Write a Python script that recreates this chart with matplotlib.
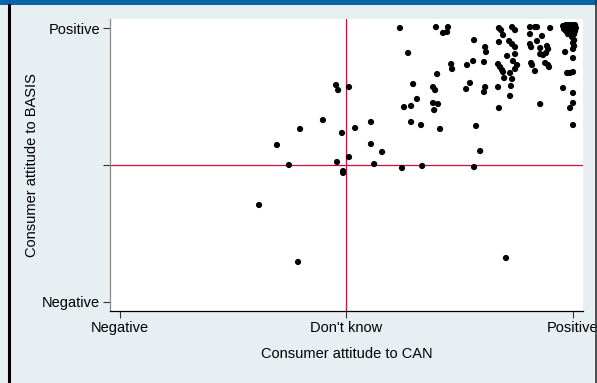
import matplotlib
matplotlib.use("Agg")
import matplotlib.pyplot as plt
from matplotlib.patches import Rectangle
from matplotlib.lines import Line2D

plt.rcParams['font.family'] = ['Liberation Sans', 'DejaVu Sans']

# Jittered attitude scores (-1 = Negative, 0 = Don't know, 1 = Positive)
can = [0.238, 0.397, 0.450, 0.428, 0.446, 0.675, 0.684, 0.733, 0.746, 0.812,
       0.834, 0.843, 0.901, 0.693, 0.812, 0.865, 0.565, 0.675, 0.720, 0.733,
       0.746, 0.812, 0.817, 0.843, 0.857, 0.887, 0.892, 0.883, 0.614, 0.618,
       0.274, 0.746, 0.711, 0.857, 0.870, 0.967, 1.002, 0.464, 0.468, 0.534,
       0.561, 0.609, 0.671, 0.680, 0.689, 0.693, 0.737, 0.755, 0.746, 0.817,
       0.821, 0.834, 0.879, 0.892, 0.896, 0.724, 0.976, 0.989, 1.002, 0.402,
       0.698, 0.733, 0.296, 0.547, 0.530, 0.614, 0.609, 0.384, 0.393, 0.671,
       0.728, 0.958, 1.002, 0.724, -0.044, -0.035, 0.013, 0.313, 0.256, 0.287,
       0.384, 0.406, 0.389, 0.675, 0.857, 1.002, 0.989, -0.102, -0.203, 0.040,
       -0.018, 0.110, 0.287, 0.331, 0.415, 0.574, 1.002, 0.110, 0.159, 0.592,
       0.013, -0.040, 0.124, -0.013, -0.013, 0.247, 0.336, 0.565, -0.305, -0.252,
       -0.384, -0.212, 0.706,
       0.958, 0.971, 0.985, 0.998, 1.011, 0.962, 0.976, 0.989, 1.002, 1.015,
       0.971, 0.985, 0.998, 1.011, 0.980, 0.993, 1.007, 0.998, 1.007, 1.002,
       1.007, 1.002]
basis = [1.000, 1.007, 1.007, 0.964, 0.971, 1.000, 0.985, 1.007, 0.985, 1.007,
         1.007, 1.007, 1.000, 0.949, 0.956, 0.942, 0.912, 0.898, 0.905, 0.883,
         0.861, 0.883, 0.861, 0.905, 0.854, 0.869, 0.847, 0.818, 0.861, 0.825,
         0.818, 0.810, 0.796, 0.810, 0.803, 0.825, 0.781, 0.737, 0.701, 0.730,
         0.759, 0.752, 0.737, 0.715, 0.693, 0.679, 0.759, 0.730, 0.701, 0.745,
         0.730, 0.686, 0.745, 0.730, 0.715, 0.672, 0.672, 0.672, 0.679, 0.664,
         0.635, 0.628, 0.591, 0.599, 0.555, 0.569, 0.533, 0.569, 0.547, 0.569,
         0.577, 0.562, 0.526, 0.504, 0.584, 0.547, 0.569, 0.482, 0.423, 0.431,
         0.453, 0.445, 0.401, 0.416, 0.445, 0.453, 0.416, 0.328, 0.263, 0.270,
         0.234, 0.314, 0.314, 0.292, 0.263, 0.285, 0.292, 0.153, 0.095, 0.102,
         0.058, 0.022, 0.007, -0.044, -0.058, -0.022, -0.007, -0.015, 0.146, 0.000,
         -0.292, -0.708, -0.679,
         1.015, 1.022, 1.022, 1.022, 1.022, 0.993, 1.000, 1.000, 1.000, 1.000,
         0.978, 0.978, 0.978, 0.978, 0.956, 0.956, 0.956, 0.934, 0.912, 0.891,
         0.869, 0.847]

tick_vals = [-1, 0, 1]
x_ticklabels = ["Negative", "Don't know", "Positive"]
y_ticklabels = ["Negative", "", "Positive"]

BG = "#e8eff2"
RED = "#c8103a"
FS = 10.5

fig = plt.figure(figsize=(5.97, 3.83), dpi=100, facecolor=BG)

# Stata-style frame: blue band on top, dark edges left and right
fig.patches.append(Rectangle((0, 1 - 5 / 383), 1, 5 / 383, transform=fig.transFigure,
                             facecolor="#0a64a8", edgecolor="none"))
fig.lines.append(Line2D([8.5 / 597, 8.5 / 597], [0, 1 - 5 / 383], transform=fig.transFigure,
                        color="black", linewidth=2.2))
fig.lines.append(Line2D([596 / 597, 596 / 597], [0, 1], transform=fig.transFigure,
                        color="#333333", linewidth=1.2))

ax = fig.add_axes([110 / 597, 72 / 383, 473 / 597, 292 / 383])
ax.set_facecolor("white")

ax.axhline(0, color=RED, linewidth=0.9, zorder=1)
ax.axvline(0, color=RED, linewidth=0.9, zorder=1)
ax.scatter(can, basis, s=20, color="black", edgecolors="none", zorder=3)

ax.set_xlim(-1.042, 1.046)
ax.set_ylim(-1.066, 1.066)

ax.set_xticks(tick_vals)
ax.set_xticklabels(x_ticklabels)
ax.set_yticks(tick_vals)
ax.set_yticklabels(y_ticklabels)
ax.tick_params(axis="both", labelsize=FS, length=5, width=0.8, colors="#333333",
               labelcolor="black", pad=2)

for side in ["top", "right"]:
    ax.spines[side].set_visible(False)
ax.spines["left"].set_color("#888888")
ax.spines["bottom"].set_color("black")
ax.spines["left"].set_linewidth(0.9)
ax.spines["bottom"].set_linewidth(0.9)

ax.set_xlabel("Consumer attitude to CAN", fontsize=FS)
ax.set_ylabel("Consumer attitude to BASIS", fontsize=FS)
ax.xaxis.set_label_coords(0.5, -0.123)
ax.yaxis.set_label_coords(-0.150, 0.5)

fig.savefig("out.png", dpi=100, facecolor=BG)
